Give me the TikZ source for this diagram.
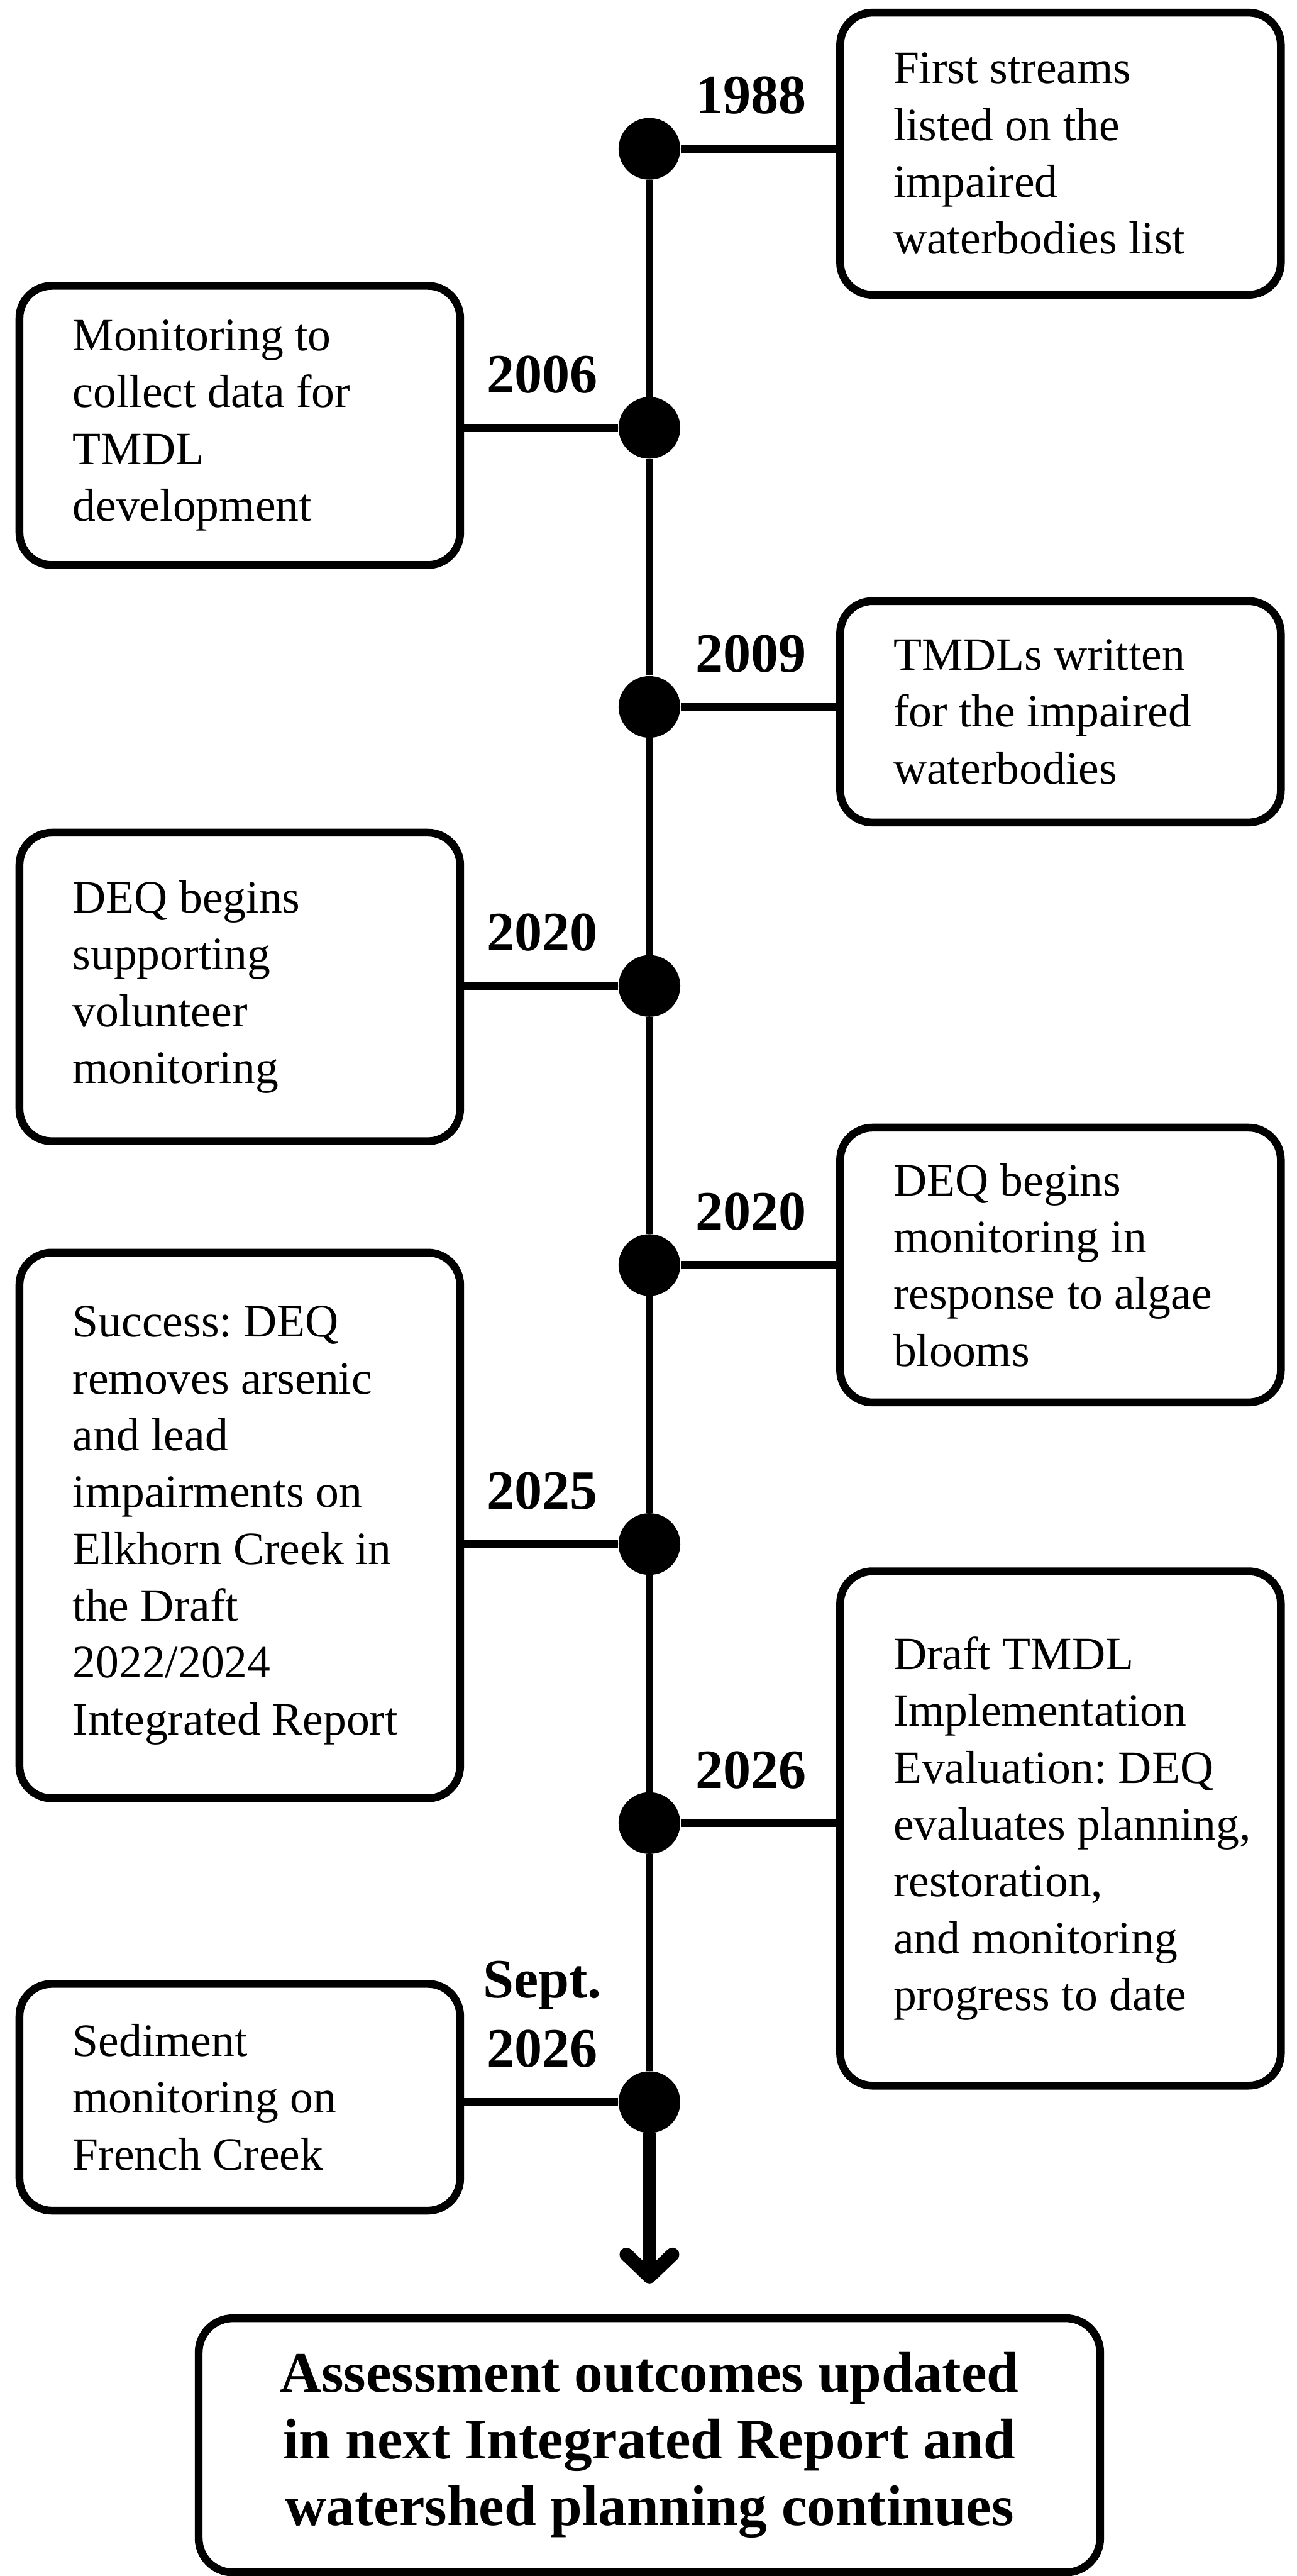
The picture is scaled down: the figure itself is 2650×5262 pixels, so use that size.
\documentclass[tikz,border=0pt]{standalone}
\usepackage{fontspec}
\setmainfont{Liberation Serif}
\usetikzlibrary{arrows.meta}
\begin{document}
\frenchspacing
\begin{tikzpicture}[x=0.01cm,y=-0.01cm,
  box/.style={draw, line width=0.16cm, rounded corners=0.66cm, minimum width=9cm, inner sep=0pt},
  txt/.style={anchor=west, align=left, inner sep=0pt, font=\fontsize{26.9pt}{33pt}\selectfont},
  dot/.style={circle, fill=black, minimum size=1.26cm, inner sep=0pt},
  yr/.style={anchor=south, align=center, inner sep=0pt, text depth=0pt, font=\fontsize{32.2pt}{40.1pt}\selectfont\bfseries},
  link/.style={line width=0.16cm},
  finalarrow/.style={line width=0.28cm, -{Straight Barb[length=0.45cm, width=0.94cm, round]}, shorten >=0.63cm},
  finbox/.style={draw, line width=0.16cm, rounded corners=0.7cm, minimum width=18.41cm, minimum height=5.19cm, inner sep=0pt, align=center, font=\fontsize{33.3pt}{38.7pt}\selectfont\bfseries}
]
\useasboundingbox (0,0) rectangle (2650,5262);

% timeline dots
\node[dot] (d1) at (1327,304) {};
\node[dot] (d2) at (1327,874) {};
\node[dot] (d3) at (1327,1444) {};
\node[dot] (d4) at (1327,2014) {};
\node[dot] (d5) at (1327,2584) {};
\node[dot] (d6) at (1327,3154) {};
\node[dot] (d7) at (1327,3724) {};
\node[dot] (d8) at (1327,4294) {};

% boxes
\node[box, minimum height=5.76cm] (b1) at (2167,314) {};
\node[box, minimum height=5.70cm] (b2) at (490,869) {};
\node[box, minimum height=4.52cm] (b3) at (2167,1454) {};
\node[box, minimum height=6.30cm] (b4) at (490,2016) {};
\node[box, minimum height=5.61cm] (b5) at (2167,2584) {};
\node[box, minimum height=11.14cm] (b6) at (490,3116) {};
\node[box, minimum height=10.50cm] (b7) at (2167,3735) {};
\node[box, minimum height=4.63cm] (b8) at (490,4284) {};

% box texts
\node[txt] (t1) at ([xshift=1.16cm]b1.west) {First streams\\listed on the\\impaired\\waterbodies list};
\node[txt] (t2) at ([xshift=1.16cm]b2.west) {Monitoring to\\collect data for\\TMDL\\development};
\node[txt] (t3) at ([xshift=1.16cm]b3.west) {TMDLs written\\for the impaired\\waterbodies};
\node[txt] (t4) at ([xshift=1.16cm]b4.west) {DEQ begins\\supporting\\volunteer\\monitoring};
\node[txt] (t5) at ([xshift=1.16cm]b5.west) {DEQ begins\\monitoring in\\response to algae\\blooms};
\node[txt] (t6) at ([xshift=1.16cm]b6.west) {Success: DEQ\\removes arsenic\\and lead\\impairments on\\Elkhorn Creek in\\the Draft\\2022/2024\\Integrated Report};
\node[txt] (t7) at ([xshift=1.16cm]b7.west) {Draft TMDL\\Implementation\\Evaluation: DEQ\\evaluates planning,\\restoration,\\and monitoring\\progress to date};
\node[txt] (t8) at ([xshift=1.16cm]b8.west) {Sediment\\monitoring on\\French Creek};

% year labels
\node[yr] (y1) at (1535,233) {1988};
\node[yr] (y2) at (1108,803) {2006};
\node[yr] (y3) at (1535,1373) {2009};
\node[yr] (y4) at (1108,1943) {2020};
\node[yr] (y5) at (1535,2513) {2020};
\node[yr] (y6) at (1108,3083) {2025};
\node[yr] (y7) at (1535,3653) {2026};
\node[yr] (y8) at (1108,4223) {Sept.\\2026};

% final box
\node[finbox] (fin) at (1327,4995) {Assessment outcomes updated\\in next Integrated Report and\\watershed planning continues};

% axis
\draw[link] (d1) -- (d2) -- (d3) -- (d4) -- (d5) -- (d6) -- (d7) -- (d8);
\draw[finalarrow] (d8.south) -- (fin.north);

% connectors
\draw[link] (d1.east) -- (d1.east -| b1.west);
\draw[link] (d2.west) -- (d2.west -| b2.east);
\draw[link] (d3.east) -- (d3.east -| b3.west);
\draw[link] (d4.west) -- (d4.west -| b4.east);
\draw[link] (d5.east) -- (d5.east -| b5.west);
\draw[link] (d6.west) -- (d6.west -| b6.east);
\draw[link] (d7.east) -- (d7.east -| b7.west);
\draw[link] (d8.west) -- (d8.west -| b8.east);
\end{tikzpicture}
\end{document}
